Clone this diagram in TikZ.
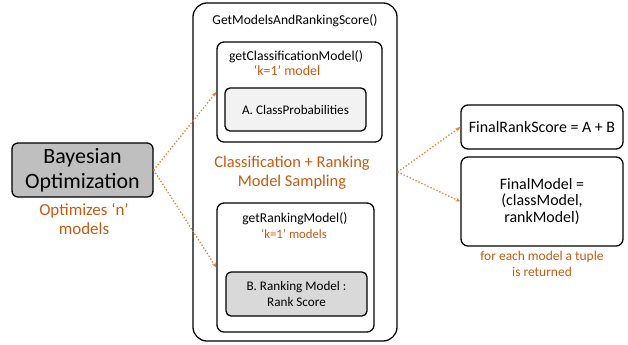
\documentclass[tikz,border=0pt]{standalone}
\usepackage{fontspec}
\setmainfont{Carlito}
\usetikzlibrary{arrows.meta}
\definecolor{txtorange}{HTML}{C55A11}
\definecolor{arrorange}{HTML}{ED7D31}
\definecolor{bgray}{HTML}{BFBFBF}
\definecolor{agray}{HTML}{F2F2F2}
\definecolor{cgray}{HTML}{D9D9D9}
\tikzset{
  box/.style={draw=black, line width=1.3pt, rounded corners=7pt, align=center, inner sep=0pt},
  otext/.style={text=txtorange, align=center, inner sep=0pt},
  btext/.style={text=black, align=center, inner sep=0pt},
  conn/.style={draw=arrorange, line width=1.3pt, dotted, -{Stealth[length=5pt,width=4pt]}},
}
\begin{document}
\begin{tikzpicture}[x=1bp,y=-1bp]
\useasboundingbox (0,0) rectangle (628,344);
% outer box
\node[box, rounded corners=14pt, minimum width=204bp, minimum height=338bp] (outer) at (295,172) {};
\node[btext, font=\fontsize{13.6}{16}\selectfont] (title) at (295,21) {GetModelsAndRankingScore()};
% classification box
\node[box, minimum width=165bp, minimum height=100bp] (cbox) at (299.5,92) {};
\node[btext, font=\fontsize{13.7}{16}\selectfont] (ctitle) at (296,57) {getClassificationModel()};
\node[otext, font=\fontsize{14}{16}\selectfont] (ck) at (287,71) {‘k=1’ model};
\node[box, fill=agray, rounded corners=5pt, minimum width=141bp, minimum height=43bp, font=\fontsize{13.2}{15}\selectfont] (abox) at (295.5,109.5) {A. ClassProbabilities};
% sampling
\node[otext, font=\fontsize{16.5}{19.5}\selectfont] (sampling) at (292,172.5) {Classification + Ranking\\Model Sampling};
% ranking box
\node[box, minimum width=157bp, minimum height=129bp] (rbox) at (295.5,267.5) {};
\node[btext, font=\fontsize{13.6}{16}\selectfont] (rtitle) at (295,219) {getRankingModel()};
\node[otext, font=\fontsize{12.8}{15}\selectfont] (rk) at (294,234) {‘k=1’ models};
\node[box, fill=cgray, rounded corners=5pt, minimum width=141bp, minimum height=44bp, font=\fontsize{13.2}{16.5}\selectfont] (bbox) at (296.5,294) {B. Ranking Model :\\Rank Score};
% bayesian
\node[box, fill=bgray, rounded corners=6pt, minimum width=141bp, minimum height=54bp, font=\fontsize{22}{25.5}\selectfont] (bayes) at (82.5,170) {Bayesian\\Optimization};
\node[otext, font=\fontsize{17}{19.5}\selectfont] (bnote) at (84,219) {Optimizes ‘n’\\models};
% right boxes
\node[box, minimum width=162bp, minimum height=44bp, font=\fontsize{16}{19}\selectfont] (frs) at (542,127) {FinalRankScore = A + B};
\node[box, minimum width=162bp, minimum height=89bp, font=\fontsize{16}{17}\selectfont] (fm) at (542,201.5) {FinalModel =\\(classModel,\\rankModel)};
\node[otext, font=\fontsize{13.5}{16}\selectfont] (fnote) at (542,264) {for each model a tuple\\is returned};
% connectors
\draw[conn] (bayes.east) -- (cbox.west);
\draw[conn] (bayes.east) -- (rbox.west);
\draw[conn] (outer.east) -- (frs.west);
\draw[conn] (outer.east) -- (fm.west);
\end{tikzpicture}
\end{document}
